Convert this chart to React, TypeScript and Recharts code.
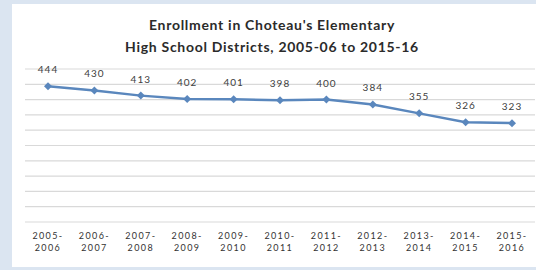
import { CartesianGrid, LabelList, Line, LineChart, XAxis, YAxis } from "recharts";

const years = [
  "2005-2006", "2006-2007", "2007-2008", "2008-2009", "2009-2010", "2010-2011",
  "2011-2012", "2012-2013", "2013-2014", "2014-2015", "2015-2016",
];
const enrollment = [444, 430, 413, 402, 401, 398, 400, 384, 355, 326, 323];
const yTicks = [0, 50, 100, 150, 200, 250, 300, 350, 400, 450, 500];

const data = years.map((y, i) => ({ year: y, enrollment: enrollment[i] }));

const FONT = "Lato, 'Open Sans', sans-serif";
const LINE = "#5a87bd";

function YearTick({ x, y, payload }: any) {
  const [a, b] = String(payload.value).split("-");
  return (
    <text x={x} y={y} textAnchor="middle" fontSize={9} letterSpacing={1.4} fill="#333333" fontFamily={FONT}>
      <tspan x={x} dy={9}>{a}-</tspan>
      <tspan x={x} dy={11.5}>{b}</tspan>
    </text>
  );
}

function Diamond({ cx, cy }: any) {
  if (cx == null || cy == null) return null;
  const r = 4;
  return <polygon points={`${cx},${cy - r} ${cx + r},${cy} ${cx},${cy + r} ${cx - r},${cy}`} fill={LINE} />;
}

function ValueLabel({ x, y, value }: any) {
  return (
    <text x={x} y={y - 13} textAnchor="middle" fontSize={10} letterSpacing={1} fill="#404040" fontFamily={FONT}>
      {value}
    </text>
  );
}

export default function App() {
  return (
    <div style={{ position: "relative", width: 536, height: 270, background: "#dbe5f1", overflow: "hidden" }}>
      <style>{`body{margin:0}`}</style>
      <div style={{ position: "absolute", left: 12, top: 4, width: 524, height: 263, background: "#ffffff" }} />
      <div
        style={{
          position: "absolute",
          left: 0,
          top: 14,
          width: 544,
          textAlign: "center",
          fontFamily: FONT,
          fontWeight: 700,
          fontSize: 14,
          letterSpacing: 0.7,
          lineHeight: "22px",
          color: "#2b2b2b",
        }}
      >
        Enrollment in Choteau's Elementary
        <br />
        High School Districts, 2005-06 to 2015-16
      </div>
      <div style={{ position: "absolute", left: 0, top: 0 }}>
        <LineChart width={536} height={270} data={data} margin={{ top: 69, right: 1, left: 25, bottom: 0 }}>
          <CartesianGrid horizontal vertical={false} stroke="#d9d9d9" strokeWidth={1.2} />
          <YAxis hide domain={[0, 500]} ticks={yTicks} interval={0} type="number" />
          <XAxis
            dataKey="year"
            axisLine={false}
            tickLine={false}
            interval={0}
            padding={{ left: 23, right: 23 }}
            height={48}
            tick={<YearTick />}
          />
          <Line
            dataKey="enrollment"
            stroke={LINE}
            strokeWidth={2.5}
            dot={<Diamond />}
            activeDot={false}
            isAnimationActive={false}
          >
            <LabelList dataKey="enrollment" content={<ValueLabel />} />
          </Line>
        </LineChart>
      </div>
    </div>
  );
}
